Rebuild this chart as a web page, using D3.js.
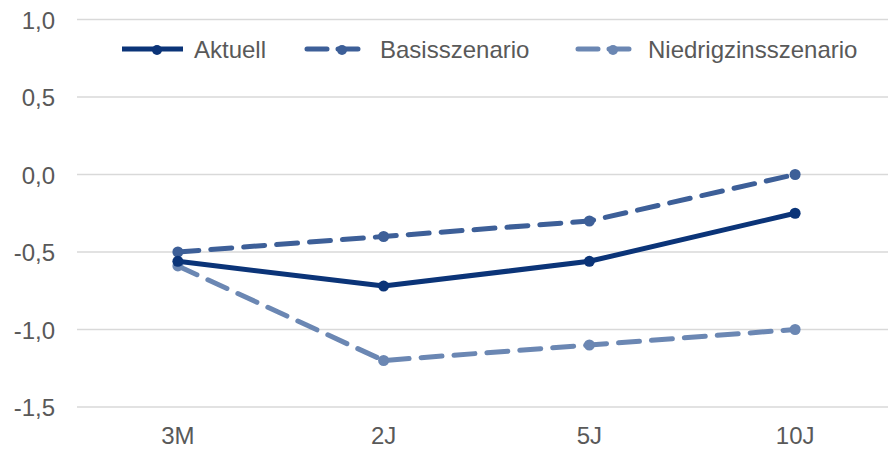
<!DOCTYPE html>
<html>
<head>
<meta charset="utf-8">
<script src="https://cdn.jsdelivr.net/npm/d3@7"></script>
<style>
  html, body { margin: 0; padding: 0; background: #fff; }
  svg { display: block; font-family: "Liberation Sans", Arial, sans-serif; }
</style>
</head>
<body>
<svg id="chart" width="888" height="450"></svg>
<script>
// Laufzeiten und Renditen (in %)
const categories = ["3M", "2J", "5J", "10J"];
const aktuell = [-0.56, -0.72, -0.56, -0.25];
const basisszenario = [-0.50, -0.40, -0.30, 0.00];
const niedrigzinsszenario = [-0.59, -1.20, -1.10, -1.00];
const yTicks = [1.0, 0.5, 0.0, -0.5, -1.0, -1.5];
const seriesNames = ["Aktuell", "Basisszenario", "Niedrigzinsszenario"];

const series = [
  { name: seriesNames[0], values: aktuell, color: "#0b3478", dash: null },
  { name: seriesNames[1], values: basisszenario, color: "#3d5f98", dash: "21,12" },
  { name: seriesNames[2], values: niedrigzinsszenario, color: "#6b87b3", dash: "21,12" }
];

const svg = d3.select("#chart");
const FS = 24;

const x = d3.scaleBand().domain(categories).range([75, 898]);
const y = d3.scaleLinear().domain([-1.5, 1.0]).range([407, 19.5]);

const fmt = v => d3.format(".1f")(v).replace(".", ",").replace("−", "-");

// horizontal grid lines
svg.append("g")
  .selectAll("line")
  .data(yTicks)
  .join("line")
  .attr("x1", 77).attr("x2", 888)
  .attr("y1", d => y(d)).attr("y2", d => y(d))
  .attr("stroke", "#d9d9d9")
  .attr("stroke-width", 1.3);

// y axis labels
const yAxis = d3.axisLeft(y).tickValues(yTicks).tickFormat(fmt).tickSize(0).tickPadding(0);
svg.append("g")
  .attr("transform", "translate(55,0)")
  .call(yAxis)
  .call(g => g.select(".domain").remove())
  .selectAll("text")
  .attr("font-size", FS)
  .attr("font-family", "Liberation Sans, Arial, sans-serif")
  .attr("fill", "#595959")
  .attr("dy", "0.36em");

// x axis labels
const xAxis = d3.axisBottom(x).tickSize(0).tickPadding(0);
svg.append("g")
  .attr("transform", "translate(0,444)")
  .call(xAxis)
  .call(g => g.select(".domain").remove())
  .selectAll("text")
  .attr("font-size", FS)
  .attr("font-family", "Liberation Sans, Arial, sans-serif")
  .attr("fill", "#595959")
  .attr("y", 0)
  .attr("dy", 0);

const cx = d => x(d) + x.bandwidth() / 2;
const line = d3.line()
  .x((d, i) => cx(categories[i]))
  .y(d => y(d));

// draw series, bottom-most first
[...series].reverse().forEach(s => {
  const g = svg.append("g");
  g.append("path")
    .datum(s.values)
    .attr("d", line)
    .attr("fill", "none")
    .attr("stroke", s.color)
    .attr("stroke-width", 5)
    .attr("stroke-linecap", s.dash ? "round" : "butt")
    .attr("stroke-linejoin", "round")
    .attr("stroke-dasharray", s.dash);
  g.selectAll("circle")
    .data(s.values)
    .join("circle")
    .attr("cx", (d, i) => cx(categories[i]))
    .attr("cy", d => y(d))
    .attr("r", 5.5)
    .attr("fill", s.color);
});

// legend
const legendItems = [
  { x0: 122, tx: 194 },
  { x0: 307, tx: 380 },
  { x0: 578, tx: 648 }
];
const ly = 49;
series.forEach((s, i) => {
  const p = legendItems[i];
  const g = svg.append("g");
  g.append("line")
    .attr("x1", p.x0).attr("x2", p.x0 + 61)
    .attr("y1", ly).attr("y2", ly)
    .attr("stroke", s.color)
    .attr("stroke-width", 5)
    .attr("stroke-linecap", s.dash ? "round" : "butt")
    .attr("stroke-dasharray", s.dash ? "20,11" : null);
  g.append("circle")
    .attr("cx", p.x0 + 35).attr("cy", ly + 1)
    .attr("r", 5)
    .attr("fill", s.color);
  g.append("text")
    .attr("x", p.tx).attr("y", ly)
    .attr("dy", "0.36em")
    .attr("font-size", FS)
    .attr("fill", "#595959")
    .text(s.name);
});
</script>
</body>
</html>
